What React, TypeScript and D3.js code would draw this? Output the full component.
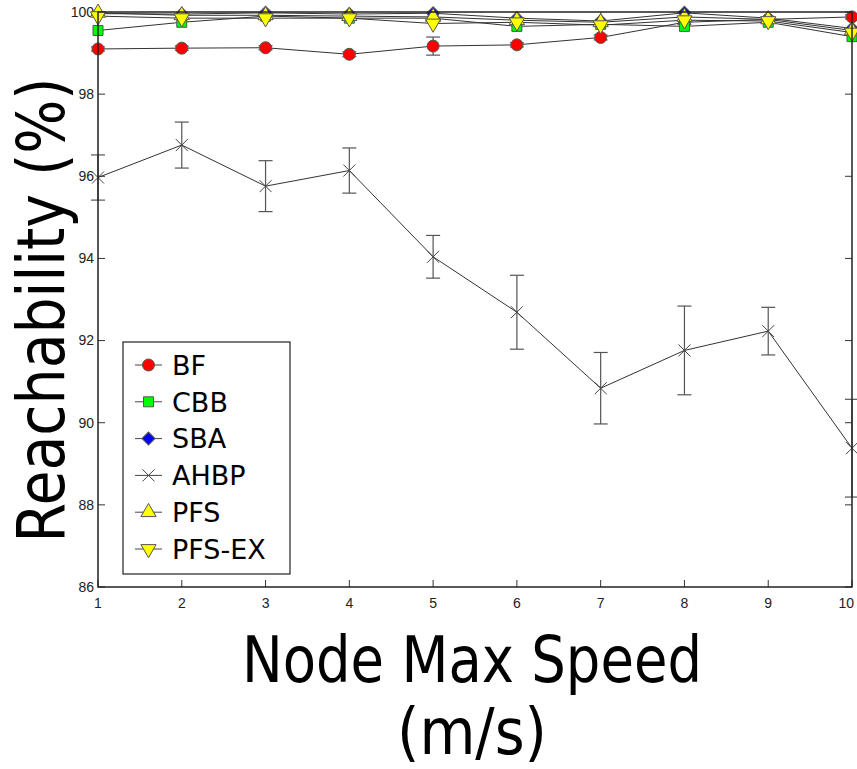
import * as d3 from 'd3';
import React from 'react';

const speeds = [1, 2, 3, 4, 5, 6, 7, 8, 9, 10];
const xTicks = [1, 2, 3, 4, 5, 6, 7, 8, 9, 10];
const yTicks = [86, 88, 90, 92, 94, 96, 98, 100];

const bf = [99.1, 99.12, 99.13, 98.97, 99.17, 99.2, 99.38, 99.75, 99.82, 99.88];
const bfErr = [0.05, 0.05, 0.05, 0.06, 0.22, 0.05, 0.06, 0.05, 0.05, 0.05];
const cbb = [99.55, 99.75, 99.9, 99.85, 99.85, 99.65, 99.7, 99.65, 99.75, 99.4];
const sba = [99.96, 99.95, 99.98, 99.95, 99.97, 99.85, 99.78, 99.98, 99.85, 99.6];
const ahbp = [95.97, 96.76, 95.76, 96.14, 94.04, 92.69, 90.84, 91.76, 92.23, 89.38];
const ahbpErr = [0.55, 0.56, 0.62, 0.55, 0.52, 0.9, 0.87, 1.08, 0.58, 1.19];
const pfs = [99.98, 99.92, 99.92, 99.9, 99.88, 99.8, 99.75, 99.88, 99.82, 99.55];
const pfsEx = [99.9, 99.85, 99.85, 99.85, 99.72, 99.75, 99.68, 99.8, 99.78, 99.5];

const seriesNames = ['BF', 'CBB', 'SBA', 'AHBP', 'PFS', 'PFS-EX'];

const x = d3.scaleLinear().domain([1, 10]).range([98, 852]);
const y = d3.scaleLinear().domain([86, 100]).range([587, 12]);

const series = [
  { name: seriesNames[0], values: bf, err: bfErr, marker: 'circle', fill: '#ff0000' },
  { name: seriesNames[1], values: cbb, err: null, marker: 'square', fill: '#00ff00' },
  { name: seriesNames[2], values: sba, err: null, marker: 'diamond', fill: '#0000ff' },
  { name: seriesNames[3], values: ahbp, err: ahbpErr, marker: 'x', fill: 'none' },
  { name: seriesNames[4], values: pfs, err: null, marker: 'up', fill: '#ffff00' },
  { name: seriesNames[5], values: pfsEx, err: null, marker: 'down', fill: '#ffff00' },
];

const lineGen = d3
  .line<number>()
  .x((d, i) => x(speeds[i]))
  .y((d) => y(d));

function Marker({ type, fill, cx, cy }) {
  const edge = '#555';
  if (type === 'circle') {
    return <circle cx={cx} cy={cy} r={6} fill={fill} stroke={edge} strokeWidth={1} />;
  }
  if (type === 'square') {
    return (
      <path
        d={d3.symbol().type(d3.symbolSquare).size(100)()}
        transform={`translate(${cx},${cy})`}
        fill={fill}
        stroke={edge}
      />
    );
  }
  if (type === 'diamond') {
    return (
      <path
        d={d3.symbol().type(d3.symbolSquare).size(85)()}
        transform={`translate(${cx},${cy}) rotate(45)`}
        fill={fill}
        stroke={edge}
      />
    );
  }
  if (type === 'x') {
    return (
      <path
        d="M-6,-6L6,6M-6,6L6,-6"
        transform={`translate(${cx},${cy})`}
        fill="none"
        stroke="#444"
        strokeWidth={1}
      />
    );
  }
  const rot = type === 'down' ? 180 : 0;
  return (
    <path
      d={d3.symbol().type(d3.symbolTriangle).size(100)()}
      transform={`translate(${cx},${cy}) rotate(${rot})`}
      fill={fill}
      stroke={edge}
    />
  );
}

export default function App() {
  const [x0, x1] = x.range();
  const [y0, y1] = y.range();
  const tickLen = 7;
  const capHalf = 7;
  const lastTick = xTicks[xTicks.length - 1];

  return (
    <svg
      width={857}
      height={769}
      style={{ position: 'absolute', left: 0, top: 0, background: '#fff' }}
      fontFamily="'Liberation Sans', Arial, sans-serif"
    >
      <rect x={0} y={0} width={857} height={769} fill="#fff" />

      {/* y ticks, both sides */}
      {yTicks.map((t) => (
        <g key={'y' + t}>
          <line x1={x0} x2={x0 + tickLen} y1={y(t)} y2={y(t)} stroke="#333" />
          <line x1={x1} x2={x1 - tickLen} y1={y(t)} y2={y(t)} stroke="#333" />
          <text x={x0 - 4} y={y(t)} dy="0.35em" textAnchor="end" fontSize={14} fill="#222">
            {t}
          </text>
        </g>
      ))}

      {/* x ticks, both sides */}
      {xTicks.map((t) => (
        <g key={'x' + t}>
          <line x1={x(t)} x2={x(t)} y1={y0} y2={y0 - tickLen} stroke="#333" />
          <line x1={x(t)} x2={x(t)} y1={y1} y2={y1 + tickLen} stroke="#333" />
          <text
            x={t === lastTick ? x(t) + 2 : x(t)}
            y={y0 + 21}
            textAnchor={t === lastTick ? 'end' : 'middle'}
            fontSize={14}
            fill="#222"
          >
            {t}
          </text>
        </g>
      ))}

      {/* lines */}
      {series.map((s) => (
        <path key={'l' + s.name} d={lineGen(s.values)} fill="none" stroke="#333" strokeWidth={1} />
      ))}

      {/* error bars */}
      {series
        .filter((s) => s.err)
        .map((s) =>
          s.values.map((v, i) => {
            const cx = x(speeds[i]);
            const hi = y(v + s.err[i]);
            const lo = y(v - s.err[i]);
            return (
              <g key={'e' + s.name + i} stroke="#555" strokeWidth={1.2}>
                <line x1={cx} x2={cx} y1={hi} y2={lo} />
                <line x1={cx - capHalf} x2={cx + capHalf} y1={hi} y2={hi} />
                <line x1={cx - capHalf} x2={cx + capHalf} y1={lo} y2={lo} />
              </g>
            );
          })
        )}

      {/* markers */}
      {series.map((s) =>
        s.values.map((v, i) => (
          <Marker key={'m' + s.name + i} type={s.marker} fill={s.fill} cx={x(speeds[i])} cy={y(v)} />
        ))
      )}

      {/* frame */}
      <rect x={x0} y={y1} width={x1 - x0} height={y0 - y1} fill="none" stroke="#222" strokeWidth={1.5} />

      {/* legend */}
      <g>
        <rect x={123} y={342} width={167} height={232} fill="#fff" stroke="#222" strokeWidth={1.2} />
        {series.map((s, i) => {
          const ly = 365 + i * 36.8;
          return (
            <g key={'leg' + s.name}>
              <line x1={135} x2={162} y1={ly} y2={ly} stroke="#444" />
              <Marker type={s.marker} fill={s.fill} cx={148.5} cy={ly} />
              <text
                x={172}
                y={ly}
                dy="0.36em"
                fontSize={27}
                fontFamily="'DejaVu Sans', Verdana, sans-serif"
                fill="#000"
              >
                {s.name}
              </text>
            </g>
          );
        })}
      </g>

      {/* axis titles */}
      <text
        transform="translate(64,310) rotate(-90)"
        textAnchor="middle"
        fontSize={66}
        fontFamily="'DejaVu Sans', Verdana, sans-serif"
        textLength={465}
        lengthAdjust="spacingAndGlyphs"
      >
        Reachability (%)
      </text>
      <text
        x={472}
        y={682}
        textAnchor="middle"
        fontSize={64}
        fontFamily="'DejaVu Sans', Verdana, sans-serif"
        textLength={460}
        lengthAdjust="spacingAndGlyphs"
      >
        Node Max Speed
      </text>
      <text
        x={472}
        y={754}
        textAnchor="middle"
        fontSize={64}
        fontFamily="'DejaVu Sans', Verdana, sans-serif"
        textLength={150}
        lengthAdjust="spacingAndGlyphs"
      >
        (m/s)
      </text>
    </svg>
  );
}
